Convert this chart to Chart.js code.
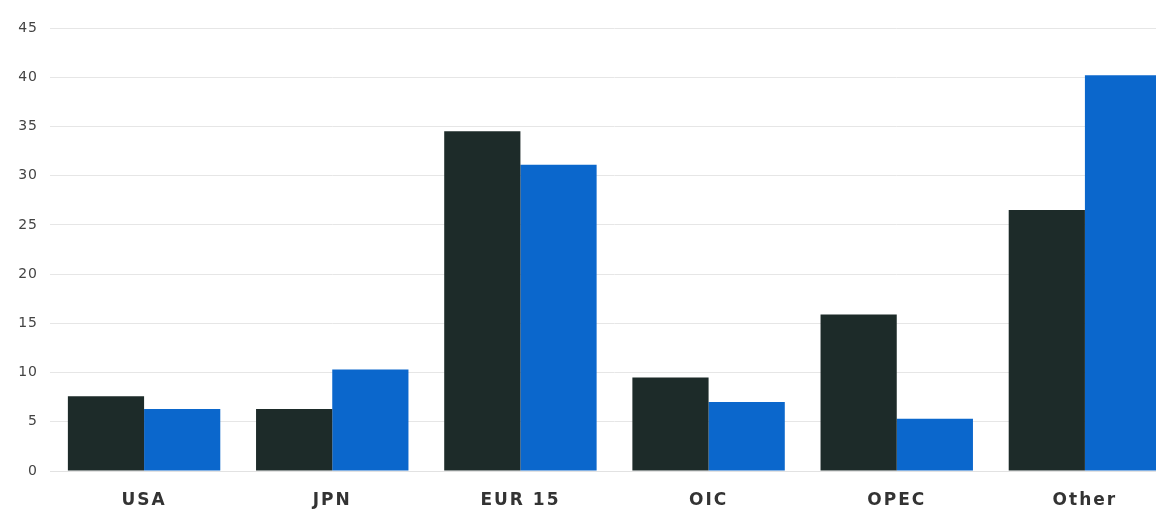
<!DOCTYPE html>
<html>
<head>
<meta charset="utf-8">
<script src="https://cdn.jsdelivr.net/npm/chart.js@4"></script>
<style>
    html, body { margin: 0; padding: 0; background: #fff; overflow: hidden; width: 1156px; height: 511px; }
    #wrap { position: absolute; left: 0; top: 0; width: 1180px; height: 511px; }
</style>
</head>
<body>
<div id="wrap"><canvas id="barChart" width="1180" height="511"></canvas></div>
<script>
const categories = ['USA', 'JPN', 'EUR 15', 'OIC', 'OPEC', 'Other'];
const darkValues = [7.6, 6.3, 34.5, 9.5, 15.9, 26.5];
const blueValues = [6.3, 10.3, 31.1, 7.0, 5.3, 40.2];
const yTicks = [0, 5, 10, 15, 20, 25, 30, 35, 40, 45];

const ctx = document.getElementById('barChart').getContext('2d');

// the original labels are set in a wide face, so space the letters out a bit
const letterSpacing = {
    id: 'letterSpacing',
    afterLayout(chart) {
        const spacing = {x: '2px', y: '1px'};
        Object.keys(spacing).forEach(id => {
            const scale = chart.scales[id];
            const orig = Object.getPrototypeOf(scale).drawLabels;
            scale.drawLabels = function (area) {
                this.ctx.save();
                this.ctx.letterSpacing = spacing[id];
                orig.call(this, area);
                this.ctx.restore();
            };
        });
    }
};

new Chart(ctx, {
    type: 'bar',
    data: {
        labels: categories,
        datasets: [{
            label: 'Series 1',
            data: darkValues,
            backgroundColor: '#1d2b29',
            categoryPercentage: 0.81,
            barPercentage: 1
        }, {
            label: 'Series 2',
            data: blueValues,
            backgroundColor: '#0b67cc',
            categoryPercentage: 0.81,
            barPercentage: 1
        }]
    },
    options: {
        responsive: false,
        animation: false,
        layout: {
            padding: {top: 28, right: 1, left: 0, bottom: 0}
        },
        scales: {
            x: {
                grid: {display: false},
                border: {display: true, color: '#e2e2e2'},
                ticks: {
                    color: '#333',
                    font: {family: 'DejaVu Sans', size: 17, weight: 'bold'},
                    padding: 11
                },
                afterFit(scale) { scale.height = 40; }
            },
            y: {
                min: 0,
                max: 45,
                afterBuildTicks(scale) { scale.ticks = yTicks.map(v => ({value: v})); },
                grid: {color: '#e6e6e6', drawTicks: false},
                border: {display: false},
                ticks: {
                    color: '#444',
                    font: {family: 'DejaVu Sans', size: 14},
                    padding: 12
                },
                afterFit(scale) { scale.width = 50; }
            }
        },
        plugins: {
            legend: {display: false},
            tooltip: {enabled: false}
        }
    },
    plugins: [letterSpacing]
});
</script>
</body>
</html>
